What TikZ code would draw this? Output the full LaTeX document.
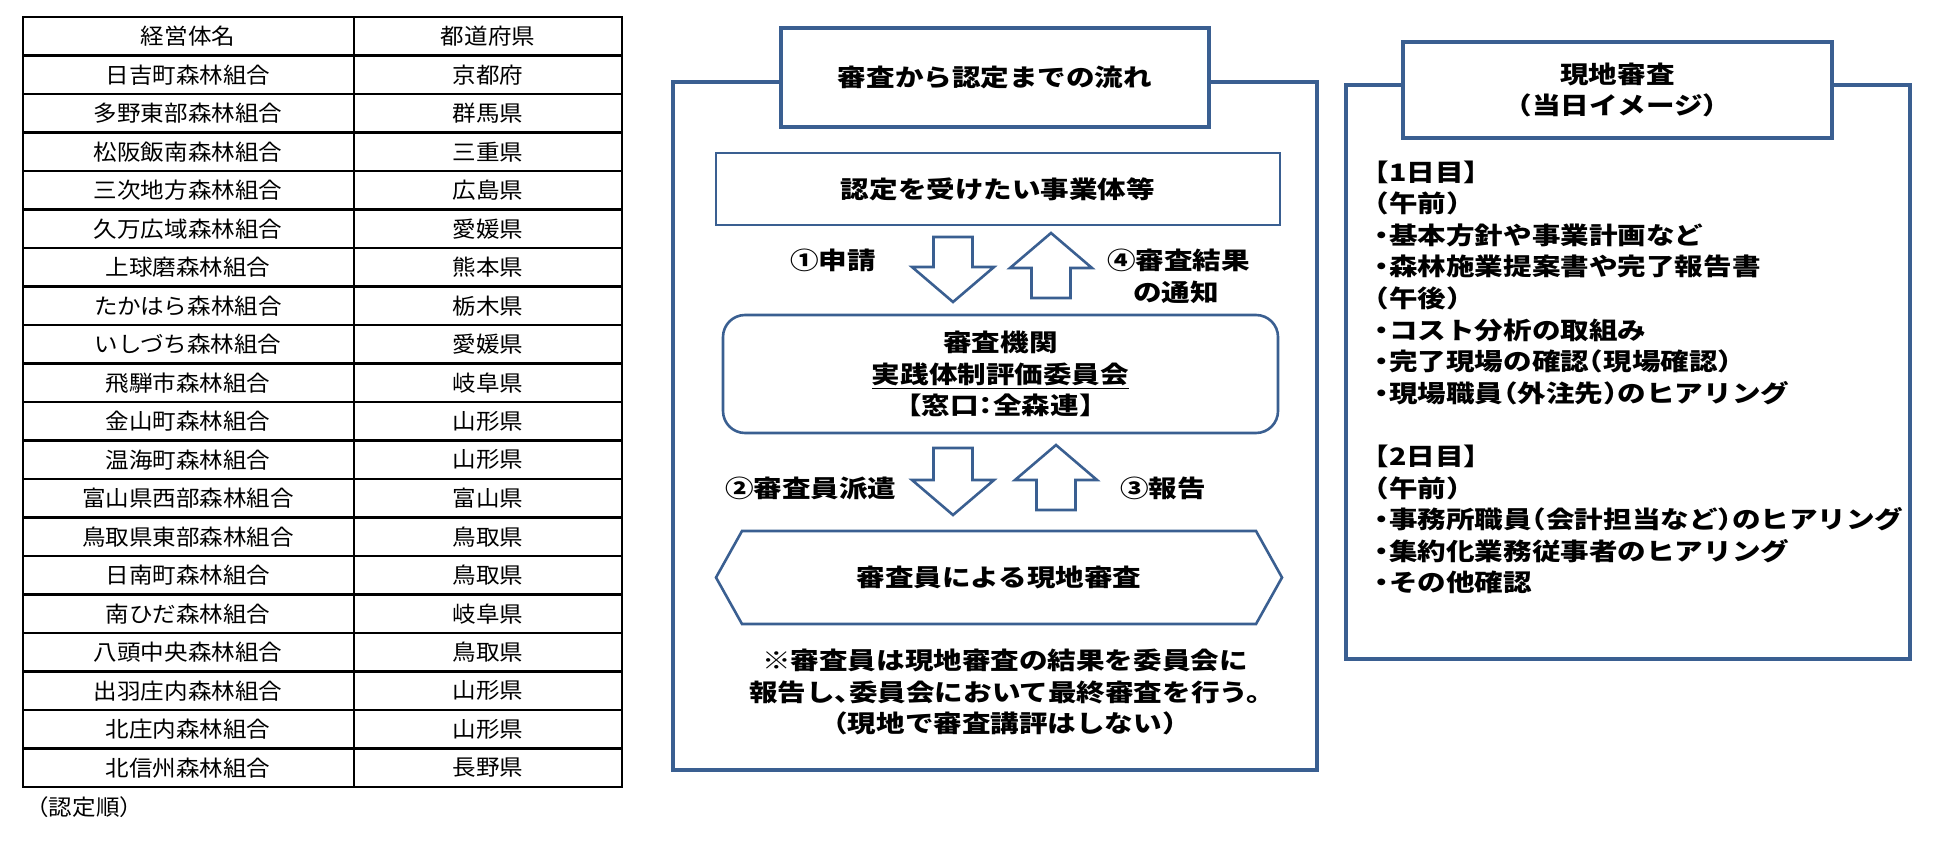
\documentclass[tikz,border=0pt]{standalone}
\usepackage{fontspec}
\setmainfont{Noto Sans CJK JP}
\newfontfamily\tabfont{Noto Sans CJK JP}[FakeStretch=1.07]
\newfontfamily\panelfont{Noto Sans CJK JP}[FakeStretch=1.19,RawFeature=+halt]
\usetikzlibrary{calc}
\definecolor{frameblue}{RGB}{58,95,145}

\begin{document}
\begin{tikzpicture}[x=0.5pt,y=-0.5pt,
        tabline/.style={line width=1.4pt},
        ttext/.style={font=\tabfont\fontsize{11pt}{13pt}\selectfont,inner sep=0pt},
        ptext/.style={font=\panelfont\bfseries\fontsize{12pt}{15.8pt}\selectfont,inner sep=0pt,outer sep=0pt},
        panelframe/.style={draw=frameblue,line width=2.4pt},
        titlebox/.style={panelframe,fill=white,ptext,align=center},
        thinbox/.style={draw=frameblue,line width=1.3pt,ptext,align=center},
        thinline/.style={draw=frameblue,line width=1.3pt,line join=miter},
        blockarr/.style={thinline,fill=white}]
    \useasboundingbox (0,0) rectangle (1952,861);

    \draw[tabline] (23,17) rectangle (622,787);
    \draw[tabline] (354,17) -- (354,787);
    \foreach \r in {1,...,19}
        \draw[tabline] (23,17+38.5*\r) -- (622,17+38.5*\r);
    \foreach \nm/\pf [count=\i from 0] in {経営体名/都道府県,日吉町森林組合/京都府,
            多野東部森林組合/群馬県,松阪飯南森林組合/三重県,三次地方森林組合/広島県,
            久万広域森林組合/愛媛県,上球磨森林組合/熊本県,たかはら森林組合/栃木県,
            いしづち森林組合/愛媛県,飛騨市森林組合/岐阜県,金山町森林組合/山形県,
            温海町森林組合/山形県,富山県西部森林組合/富山県,鳥取県東部森林組合/鳥取県,
            日南町森林組合/鳥取県,南ひだ森林組合/岐阜県,八頭中央森林組合/鳥取県,
            出羽庄内森林組合/山形県,北庄内森林組合/山形県,北信州森林組合/長野県} {
        \node[ttext] (org\i) at (188,36.25+38.5*\i) {\nm};
        \node[ttext] (pref\i) at (488,36.25+38.5*\i) {\pf};
    }
    \node[ttext,anchor=west] (order) at (25,807) {（認定順）};

    \draw[panelframe] (673,82) rectangle (1317,770);
    \node[titlebox,minimum width=214pt,minimum height=49.5pt] (flowtitle) at (995,77.5) {審査から認定までの流れ};
    \node[thinbox,minimum width=282pt,minimum height=36pt] (applbox) at (998,189) {認定を受けたい事業体等};
    \node[thinbox,rounded corners=11pt,minimum width=277.5pt,minimum height=59pt] (cmtbox) at (1000.5,374)
        {審査機関\\\underline{実践体制評価委員会}\\【窓口：全森連】};
    \node[ptext,minimum width=283pt,minimum height=46.5pt] (siteaudit) at (999,577.5) {審査員による現地審査};
    \draw[thinline] (siteaudit.west) -- ([xshift=13pt]siteaudit.north west) -- ([xshift=-13pt]siteaudit.north east)
        -- (siteaudit.east) -- ([xshift=-13pt]siteaudit.south east) -- ([xshift=13pt]siteaudit.south west) -- cycle;
    \foreach \xa/\ya/\yb in {953/237/302,953/448/515}
        \draw[blockarr] (\xa-19.5,\ya) -- (\xa+19.5,\ya) -- (\xa+19.5,\yb-35) -- (\xa+41,\yb-35)
            -- (\xa,\yb) -- (\xa-41,\yb-35) -- (\xa-19.5,\yb-35) -- cycle;
    \foreach \xa/\ya/\yb in {1051/298/233,1056/510/445}
        \draw[blockarr] (\xa-19.5,\ya) -- (\xa-19.5,\yb+35) -- (\xa-41,\yb+35) -- (\xa,\yb)
            -- (\xa+41,\yb+35) -- (\xa+19.5,\yb+35) -- (\xa+19.5,\ya) -- cycle;
    \node[ptext,anchor=west] (apply) at (790,260) {①申請};
    \node[ptext,anchor=west,align=left] (notify) at (1107,276.5) {④審査結果\\\hspace{13pt}の通知};
    \node[ptext,anchor=west] (dispatch) at (725,488) {②審査員派遣};
    \node[ptext,anchor=west] (report) at (1120,488) {③報告};
    \node[ptext,align=center] (note) at (1005,692)
        {※審査員は現地審査の結果を委員会に\\報告し、委員会において最終審査を行う。\\（現地で審査講評はしない）};

    \draw[panelframe] (1346,85) rectangle (1910,659);
    \node[titlebox,minimum width=214.5pt,minimum height=48pt] (sitetitle) at (1617.5,90) {現地審査\\（当日イメージ）};
    \foreach \txt/\k in {【1日目】/0,（午前）/1,・基本方針や事業計画など/2,・森林施業提案書や完了報告書/3,
            （午後）/4,・コスト分析の取組み/5,・完了現場の確認（現場確認）/6,・現場職員（外注先）のヒアリング/7,
            【2日目】/9,（午前）/10,・事務所職員（会計担当など）のヒアリング/11,・集約化業務従事者のヒアリング/12,
            ・その他確認/13}
        \node[ptext,anchor=west] (item\k) at (1375,172+31.6*\k) {\txt};
\end{tikzpicture}
\end{document}
